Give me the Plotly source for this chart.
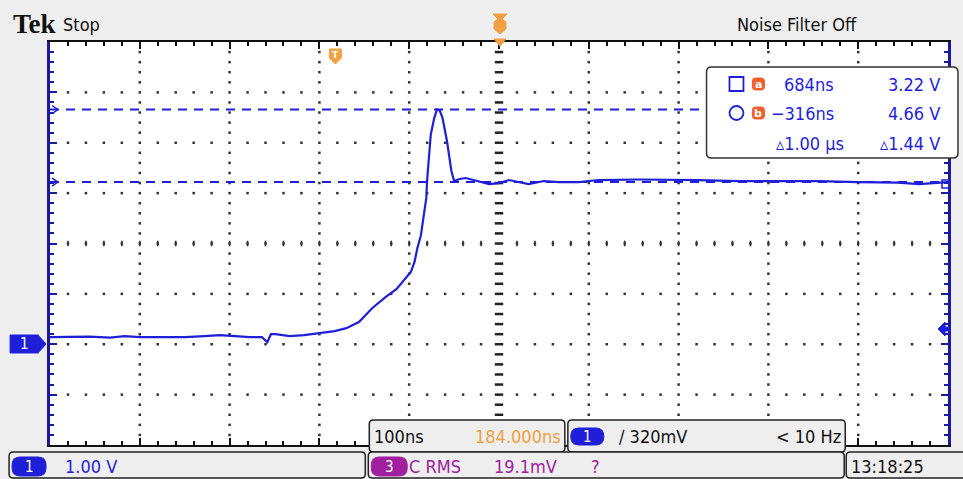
import plotly.graph_objects as go

# waveform (time in ns relative to trigger, volts)
trace_t_ns = [-316, -294, -272, -249, -233, -216, -194, -166, -144, -127, -110, -94,
              -80, -76, -74, -70, -65, -49, -33, -16, 1, 14, 28, 43, 51, 58, 70, 78,
              86, 90, 93, 97, 101, 103, 104, 106, 108, 112, 115, 118, 121, 126, 131,
              134, 140, 147, 156, 162, 173, 184, 195, 217, 234, 251, 273, 295, 340,
              406, 451, 495, 540, 584, 628, 652, 670, 684]
trace_v = [0.14, 0.14, 0.15, 0.13, 0.16, 0.14, 0.14, 0.14, 0.16, 0.18, 0.16, 0.14,
           0.14, 0.06, 0.04, 0.20, 0.20, 0.16, 0.18, 0.22, 0.26, 0.32, 0.44, 0.72,
           0.84, 0.94, 1.10, 1.26, 1.44, 1.64, 1.90, 2.16, 2.64, 2.90, 3.26, 3.70,
           4.16, 4.50, 4.66, 4.64, 4.50, 4.04, 3.44, 3.24, 3.28, 3.30, 3.26, 3.22,
           3.18, 3.20, 3.26, 3.18, 3.24, 3.22, 3.22, 3.26, 3.27, 3.26, 3.24, 3.24,
           3.24, 3.22, 3.21, 3.18, 3.20, 3.22]

cursor_v = [4.66, 3.22]
readout_rows = [["684ns", "3.22 V"], ["\u2212316ns", "4.66 V"], ["\u25b51.00 \u03bcs", "\u25b51.44 V"]]
timebase = ["100ns", "184.000ns"]
trigger_info = ["\u2215 320mV", "< 10 Hz"]
ch1_scale = "1.00 V"
ch3_info = ["C RMS", "19.1mV", "?"]
clock = "13:18:25"

BLUE = "#1f1fd8"
ORANGE = "#f0a040"
PURPLE = "#a020a0"
NARROW = "Liberation Sans Narrow, DejaVu Sans Condensed, sans-serif"

# plot area in screen pixels
L, R, T, B = 50, 950, 42, 445
W, H = R - L, B - T


def px(x):
    return (x - L) / W


def py(y):
    return (B - y) / H


def P(x, y):
    return f"{px(x):.5f},{py(y):.5f}"


def rrect(x0, y0, x1, y1, r, fill, line="#222", lw=1.5):
    path = (f"M{P(x0 + r, y0)} L{P(x1 - r, y0)} Q{P(x1, y0)} {P(x1, y0 + r)} "
            f"L{P(x1, y1 - r)} Q{P(x1, y1)} {P(x1 - r, y1)} L{P(x0 + r, y1)} "
            f"Q{P(x0, y1)} {P(x0, y1 - r)} L{P(x0, y0 + r)} Q{P(x0, y0)} {P(x0 + r, y0)} Z")
    return dict(type="path", xref="paper", yref="paper", path=path, fillcolor=fill,
                line=dict(color=line, width=lw), layer="above")


def poly(pts, fill, line=None):
    path = "M" + " L".join(P(x, y) for x, y in pts) + " Z"
    return dict(type="path", xref="paper", yref="paper", path=path, fillcolor=fill,
                line=dict(color=line or fill, width=1), layer="above")


def txt(x, y, s, color="#111", size=15, anchor="left", family=NARROW, bold=False):
    if bold:
        s = f"<b>{s}</b>"
    return dict(x=px(x), y=py(y), xref="paper", yref="paper", text=s,
                showarrow=False, xanchor=anchor, yanchor="middle",
                font=dict(color=color, size=size, family=family))


fig = go.Figure()

# graticule dots
x_major = [-316 + 100 * k for k in range(1, 10)]
y_major = [-2 + k for k in range(1, 8)]
dx, dy, ex, ey = [], [], [], []
for t in x_major:
    for j in range(1, 40):
        if t == 184:
            ex.append(t); ey.append(-2 + 0.2 * j)
        else:
            dx.append(t); dy.append(-2 + 0.2 * j)
for v in y_major:
    for j in range(1, 50):
        t = -316 + 20 * j
        if t in x_major:
            continue
        dx.append(t); dy.append(v)
fig.add_trace(go.Scatter(x=dx, y=dy, mode="markers", hoverinfo="skip",
                         marker=dict(symbol="square", size=2.5, color="#333")))
fig.add_trace(go.Scatter(x=ex, y=ey, mode="markers", hoverinfo="skip",
                         marker=dict(symbol="line-ew", size=6, line=dict(width=2.5, color="#222"))))
cx = [-316 + 20 * j for j in range(1, 50) if (-316 + 20 * j) != 184]
fig.add_trace(go.Scatter(x=cx, y=[2] * len(cx), mode="markers", hoverinfo="skip",
                         marker=dict(symbol="line-ns", size=4, line=dict(width=1.6, color="#333"))))

# cursor lines
for v in cursor_v:
    fig.add_shape(type="line", xref="x", yref="y", x0=-316, x1=684, y0=v, y1=v,
                  line=dict(color=BLUE, width=2, dash="9px,7px"))

# channel 1 waveform
fig.add_trace(go.Scatter(x=trace_t_ns, y=trace_v, mode="lines", hoverinfo="skip",
                         line=dict(color=BLUE, width=2.2)))

shapes = []
annots = []

# header strip
shapes.append(dict(type="rect", xref="paper", yref="paper", x0=px(0), x1=px(963),
                   y0=py(12), y1=py(0), fillcolor="white", line=dict(width=0), layer="below"))
shapes.append(dict(type="line", xref="paper", yref="paper", x0=px(362), x1=px(642),
                   y0=py(23), y1=py(23), line=dict(color=BLUE, width=2)))
shapes.append(poly([(494, 14), (508, 14), (503, 19), (507, 22), (507, 29), (501, 34),
                    (495, 29), (495, 22), (499, 19)], ORANGE))
shapes.append(poly([(495, 39), (507, 39), (501, 46)], ORANGE))
# trigger position marker
shapes.append(poly([(330, 49), (342, 49), (342, 58), (336, 64), (330, 58)], ORANGE))
annots.append(txt(336, 55, "T", "white", 9, "center", "DejaVu Sans", True))
annots.append(txt(11, 24, "Tek", "#111", 27, "left", "Liberation Serif, serif", True))
annots.append(txt(61, 25, "Stop", "#111", 18))
annots.append(txt(737, 25, "Noise Filter Off", "#111", 18))

# ground marker and trigger level marker
shapes.append(poly([(10, 335), (38, 335), (46, 344), (38, 353), (10, 353)], BLUE))
annots.append(txt(24, 344, "1", "white", 15, "center"))
shapes.append(poly([(940, 329), (947, 322), (947, 327), (952, 327), (952, 331),
                    (947, 331), (947, 336)], BLUE))
for v in cursor_v:
    y = B - (v + 2) * H / 8
    shapes.append(dict(type="path", xref="paper", yref="paper",
                       path=f"M{P(52, y - 4)} L{P(58, y)} L{P(52, y + 4)}",
                       line=dict(color=BLUE, width=1.5)))
shapes.append(dict(type="rect", xref="paper", yref="paper", x0=px(944), x1=px(951),
                   y0=py(188), y1=py(180), line=dict(color=BLUE, width=1.5)))

# cursor readout
shapes.append(rrect(708, 67, 960, 158, 5, "white", "#333", 1.5))
shapes.append(dict(type="rect", xref="paper", yref="paper", x0=px(731), x1=px(745),
                   y0=py(91), y1=py(77), line=dict(color=BLUE, width=1.8)))
shapes.append(dict(type="circle", xref="paper", yref="paper", x0=px(731), x1=px(745),
                   y0=py(120), y1=py(106), line=dict(color=BLUE, width=1.8)))
for y, ch in [(84, "a"), (113, "b")]:
    shapes.append(rrect(754, y - 6, 766, y + 6, 3, "#f06030", "#f06030", 1))
    annots.append(txt(760, y, ch, "white", 11, "center", "DejaVu Sans", True))
for (y, row) in zip([84, 113, 143], readout_rows):
    annots.append(txt(838 if y != 143 else 848, y, row[0], BLUE, 18, "right"))
    annots.append(txt(944, y, row[1], BLUE, 18, "right"))

# bottom readouts
shapes.append(rrect(370, 420, 566, 452, 4, "#eeeeee"))
shapes.append(rrect(569, 420, 847, 452, 4, "#eeeeee"))
shapes.append(rrect(9, 452, 366, 478, 4, "#eeeeee"))
shapes.append(rrect(369, 452, 846, 478, 4, "#eeeeee"))
shapes.append(rrect(848, 452, 968, 478, 4, "#eeeeee"))
annots.append(txt(373, 436, timebase[0], "#111", 18))
annots.append(txt(564, 436, timebase[1], ORANGE, 18, "right"))
shapes.append(rrect(572, 428, 605, 445, 8, BLUE, BLUE, 1))
annots.append(txt(589, 437, "1", "white", 15, "center"))
annots.append(txt(618, 436, trigger_info[0], "#111", 18))
annots.append(txt(845, 436, trigger_info[1], "#111", 18, "right"))
shapes.append(rrect(12, 457, 46, 476, 8, BLUE, BLUE, 1))
annots.append(txt(29, 467, "1", "white", 15, "center"))
annots.append(txt(63, 466, ch1_scale, BLUE, 18))
shapes.append(rrect(372, 457, 408, 476, 8, PURPLE, PURPLE, 1))
annots.append(txt(390, 467, "3", "white", 15, "center"))
annots.append(txt(408, 466, ch3_info[0], PURPLE, 18))
annots.append(txt(560, 466, ch3_info[1], PURPLE, 18, "right"))
annots.append(txt(590, 466, ch3_info[2], PURPLE, 18))
annots.append(txt(851, 466, clock, "#111", 18))

axis_common = dict(showgrid=False, zeroline=False, showticklabels=False, ticks="inside",
                   showline=True, mirror="ticks", fixedrange=True)
fig.update_layout(
    width=963, height=479,
    margin=dict(l=L, r=963 - R, t=T, b=479 - B),
    paper_bgcolor="#eeeeee", plot_bgcolor="white",
    showlegend=False,
    xaxis=dict(range=[-316, 684], tick0=-316, dtick=100, ticklen=7, tickwidth=2,
               tickcolor="#111", linecolor="#111", linewidth=2,
               minor=dict(ticks="inside", tick0=-316, dtick=20, ticklen=4, tickwidth=2, tickcolor="#111"),
               **axis_common),
    yaxis=dict(range=[-2, 6], tick0=-2, dtick=1, ticklen=7, tickwidth=2,
               tickcolor="#1a1aa0", linecolor="#1a1aa0", linewidth=3,
               minor=dict(ticks="inside", tick0=-2, dtick=0.2, ticklen=4, tickwidth=2, tickcolor="#1a1aa0"),
               **axis_common),
    shapes=shapes,
    annotations=annots,
)

fig.write_html("out.html", config={"displayModeBar": False},
               post_script="document.body.style.margin='0';document.body.style.overflow='hidden';")
